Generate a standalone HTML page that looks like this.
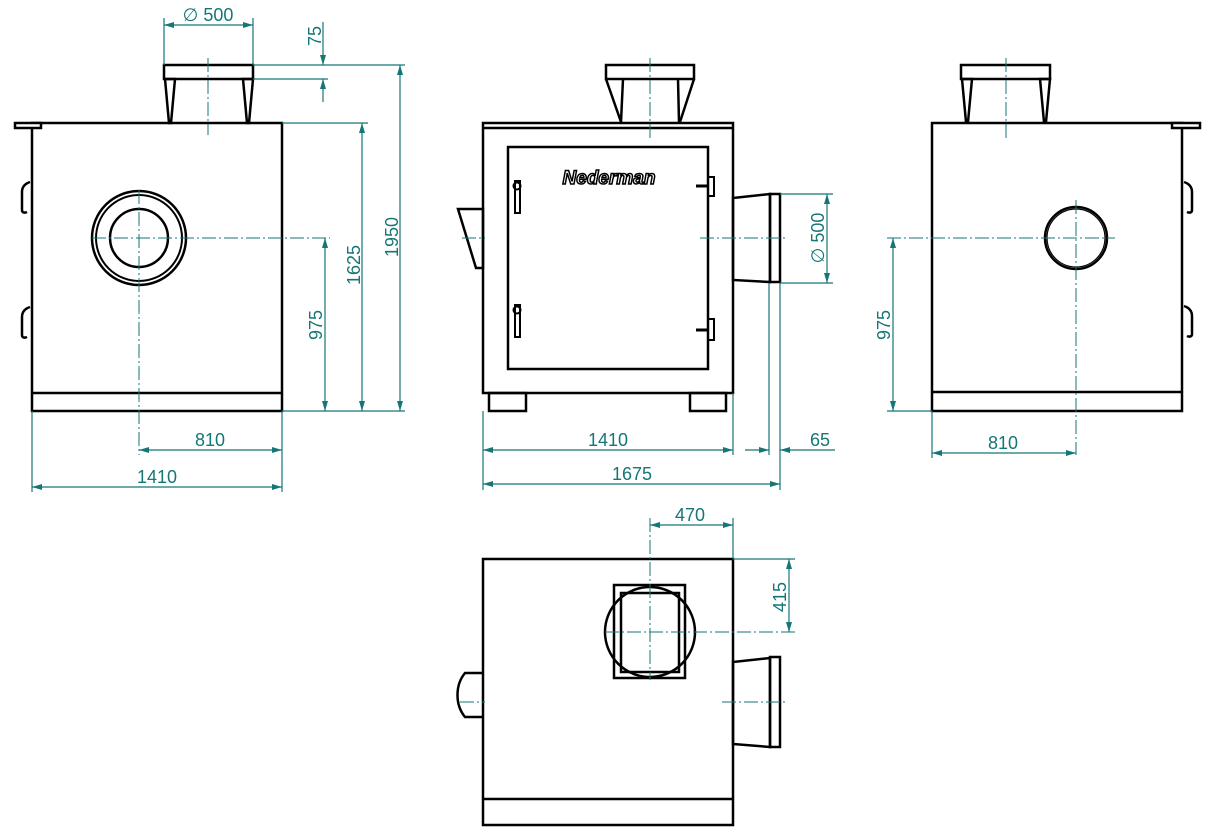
<!DOCTYPE html>
<html><head><meta charset="utf-8"><style>
html,body{margin:0;padding:0;background:#fff;}
svg{display:block;}
.k{fill:none;stroke:#000;stroke-width:2.5;}
.kw{fill:#fff;stroke:#000;stroke-width:2.5;}
.d{fill:none;stroke:#167676;stroke-width:1.2;}
.c{fill:none;stroke:#167676;stroke-width:1;stroke-dasharray:14 3 2 3;}
.t{font-family:"Liberation Sans",sans-serif;font-size:18px;fill:#167676;}
</style></head><body>
<svg width="1211" height="836" viewBox="0 0 1211 836" xmlns="http://www.w3.org/2000/svg">
<defs>
<marker id="a" viewBox="0 0 10 6" refX="10" refY="3" markerWidth="10" markerHeight="6" orient="auto-start-reverse" markerUnits="userSpaceOnUse"><path d="M0,0 L10,3 L0,6 z" fill="#167676"/></marker>
</defs>

<!-- ===== VIEW 1 ===== -->
<rect class="k" x="164" y="65" width="89" height="14"/>
<polygon class="k" points="165,79 175,79 171,123 169,123"/>
<polygon class="k" points="243,79 253,79 249,123 247,123"/>
<rect class="k" x="32" y="123" width="250" height="288"/>
<line class="k" x1="32" y1="393" x2="282" y2="393"/>
<rect class="kw" x="15" y="123" width="26" height="5"/>
<path class="k" d="M30,182 C24,184 22,188 22,192 L22,210 C22,213 25,213 27,212"/>
<path class="k" d="M30,307 C24,309 22,313 22,317 L22,335 C22,338 25,338 27,337"/>
<circle class="k" cx="139" cy="238" r="47"/>
<circle class="k" cx="139" cy="238" r="43" style="stroke-width:2"/>
<circle class="k" cx="139" cy="238" r="29"/>
<line class="c" x1="208" y1="58" x2="208" y2="135"/>
<line class="c" x1="139" y1="190" x2="139" y2="455"/>
<line class="c" x1="92" y1="238" x2="330" y2="238"/>
<!-- dims view1 -->
<line class="d" x1="164" y1="18" x2="164" y2="65"/>
<line class="d" x1="253" y1="18" x2="253" y2="65"/>
<line class="d" x1="164" y1="25" x2="253" y2="25" marker-start="url(#a)" marker-end="url(#a)"/>
<text class="t" x="208" y="21" text-anchor="middle">∅ 500</text>
<line class="d" x1="253" y1="65" x2="405" y2="65"/>
<line class="d" x1="253" y1="79" x2="328" y2="79"/>
<line class="d" x1="323" y1="22" x2="323" y2="65" marker-end="url(#a)"/>
<line class="d" x1="323" y1="102" x2="323" y2="79" marker-end="url(#a)"/>
<text class="t" transform="translate(321,36) rotate(-90)" text-anchor="middle">75</text>
<line class="d" x1="282" y1="123" x2="368" y2="123"/>
<line class="d" x1="282" y1="411" x2="405" y2="411"/>
<line class="d" x1="400" y1="65" x2="400" y2="411" marker-start="url(#a)" marker-end="url(#a)"/>
<text class="t" transform="translate(398,237) rotate(-90)" text-anchor="middle">1950</text>
<line class="d" x1="362" y1="123" x2="362" y2="411" marker-start="url(#a)" marker-end="url(#a)"/>
<text class="t" transform="translate(360,265) rotate(-90)" text-anchor="middle">1625</text>
<line class="d" x1="325" y1="238" x2="325" y2="411" marker-start="url(#a)" marker-end="url(#a)"/>
<text class="t" transform="translate(322,325) rotate(-90)" text-anchor="middle">975</text>
<line class="d" x1="32" y1="411" x2="32" y2="492"/>
<line class="d" x1="282" y1="411" x2="282" y2="492"/>
<line class="d" x1="139" y1="450" x2="282" y2="450" marker-start="url(#a)" marker-end="url(#a)"/>
<text class="t" x="210" y="446" text-anchor="middle">810</text>
<line class="d" x1="32" y1="487" x2="282" y2="487" marker-start="url(#a)" marker-end="url(#a)"/>
<text class="t" x="157" y="483" text-anchor="middle">1410</text>

<!-- ===== VIEW 2 ===== -->
<rect class="k" x="606" y="65" width="88" height="14"/>
<polyline class="k" points="606,79 621,122"/>
<polyline class="k" points="623,79 621,122"/>
<polyline class="k" points="678,79 679,122"/>
<polyline class="k" points="694,79 680,122"/>
<rect class="k" x="483" y="123" width="250" height="270"/>
<line class="k" x1="483" y1="128" x2="733" y2="128"/>
<rect class="k" x="508" y="147" width="200" height="222"/>
<rect class="k" x="489" y="393" width="37" height="18"/>
<rect class="k" x="690" y="393" width="36" height="18"/>
<text x="609" y="184" text-anchor="middle" style="font-family:'Liberation Sans',sans-serif;font-weight:bold;font-style:italic;font-size:19px;fill:#fff;stroke:#000;stroke-width:1.5">Nederman</text>
<!-- door handles -->
<rect class="k" x="515" y="181" width="5" height="32" style="stroke-width:2"/>
<circle class="k" cx="517" cy="186" r="3.5" style="stroke-width:2"/>
<rect class="k" x="515" y="305" width="5" height="32" style="stroke-width:2"/>
<circle class="k" cx="517" cy="310" r="3.5" style="stroke-width:2"/>
<!-- hinges -->
<rect class="k" x="708" y="177" width="6" height="19" style="stroke-width:2"/>
<line class="k" x1="696" y1="186" x2="708" y2="186" style="stroke-width:3"/>
<rect class="k" x="708" y="319" width="6" height="21" style="stroke-width:2"/>
<line class="k" x1="696" y1="330" x2="708" y2="330" style="stroke-width:3"/>
<!-- inlets -->
<polygon class="k" points="458,209 483,209 483,268 476,268"/>
<polygon class="k" points="733,198 770,194 770,282 733,280"/>
<rect class="k" x="770" y="194" width="10" height="88"/>
<line class="c" x1="462" y1="238" x2="485" y2="238"/>
<line class="c" x1="700" y1="238" x2="788" y2="238"/>
<line class="c" x1="650" y1="58" x2="650" y2="140"/>
<!-- dims view2 -->
<line class="d" x1="780" y1="194" x2="833" y2="194"/>
<line class="d" x1="780" y1="283" x2="833" y2="283"/>
<line class="d" x1="827" y1="194" x2="827" y2="283" marker-start="url(#a)" marker-end="url(#a)"/>
<text class="t" transform="translate(824,238) rotate(-90)" text-anchor="middle">∅ 500</text>
<line class="d" x1="483" y1="411" x2="483" y2="490"/>
<line class="d" x1="733" y1="393" x2="733" y2="455"/>
<line class="d" x1="769" y1="283" x2="769" y2="455"/>
<line class="d" x1="780" y1="283" x2="780" y2="490"/>
<line class="d" x1="483" y1="450" x2="733" y2="450" marker-start="url(#a)" marker-end="url(#a)"/>
<text class="t" x="608" y="446" text-anchor="middle">1410</text>
<line class="d" x1="745" y1="450" x2="769" y2="450" marker-end="url(#a)"/>
<line class="d" x1="835" y1="450" x2="780" y2="450" marker-end="url(#a)"/>
<text class="t" x="820" y="446" text-anchor="middle">65</text>
<line class="d" x1="483" y1="484" x2="780" y2="484" marker-start="url(#a)" marker-end="url(#a)"/>
<text class="t" x="632" y="480" text-anchor="middle">1675</text>

<!-- ===== VIEW 3 ===== -->
<rect class="k" x="961" y="65" width="89" height="14"/>
<polygon class="k" points="962,79 972,79 968,122 966,122"/>
<polygon class="k" points="1040,79 1050,79 1046,122 1044,122"/>
<rect class="k" x="932" y="123" width="250" height="288"/>
<line class="k" x1="932" y1="392" x2="1182" y2="392"/>
<rect class="kw" x="1172" y="123" width="28" height="5"/>
<path class="k" d="M1184,182 C1190,184 1192,188 1192,192 L1192,210 C1192,213 1189,213 1187,212"/>
<path class="k" d="M1184,306 C1190,308 1192,312 1192,316 L1192,334 C1192,337 1189,337 1187,336"/>
<circle class="k" cx="1076" cy="238" r="31"/>
<circle class="k" cx="1076" cy="238" r="29" style="stroke-width:1.2"/>
<line class="c" x1="1006" y1="58" x2="1006" y2="140"/>
<line class="c" x1="1076" y1="200" x2="1076" y2="455"/>
<line class="c" x1="887" y1="238" x2="1115" y2="238"/>
<line class="d" x1="887" y1="411" x2="932" y2="411"/>
<line class="d" x1="893" y1="238" x2="893" y2="411" marker-start="url(#a)" marker-end="url(#a)"/>
<text class="t" transform="translate(890,325) rotate(-90)" text-anchor="middle">975</text>
<line class="d" x1="932" y1="411" x2="932" y2="458"/>
<line class="d" x1="932" y1="453" x2="1076" y2="453" marker-start="url(#a)" marker-end="url(#a)"/>
<text class="t" x="1003" y="449" text-anchor="middle">810</text>

<!-- ===== VIEW 4 ===== -->
<rect class="k" x="483" y="559" width="250" height="266"/>
<line class="k" x1="483" y1="799" x2="733" y2="799"/>
<rect class="k" x="614" y="585" width="71" height="93"/>
<rect class="k" x="621" y="593" width="58" height="79"/>
<circle class="k" cx="650" cy="632" r="45"/>
<path class="k" d="M483,673 L465,673 C455,685 455,705 465,717 L483,717"/>
<polygon class="k" points="733,662 770,658 770,747 733,744"/>
<rect class="k" x="770" y="657" width="10" height="90"/>
<line class="c" x1="460" y1="702" x2="485" y2="702"/>
<line class="c" x1="722" y1="702" x2="788" y2="702"/>
<line class="c" x1="605" y1="632" x2="795" y2="632"/>
<line class="c" x1="650" y1="518" x2="650" y2="680"/>
<line class="d" x1="733" y1="518" x2="733" y2="559"/>
<line class="d" x1="650" y1="525" x2="733" y2="525" marker-start="url(#a)" marker-end="url(#a)"/>
<text class="t" x="690" y="521" text-anchor="middle">470</text>
<line class="d" x1="733" y1="559" x2="795" y2="559"/>
<line class="d" x1="789" y1="559" x2="789" y2="632" marker-start="url(#a)" marker-end="url(#a)"/>
<text class="t" transform="translate(786,597) rotate(-90)" text-anchor="middle">415</text>
</svg>
</body></html>
